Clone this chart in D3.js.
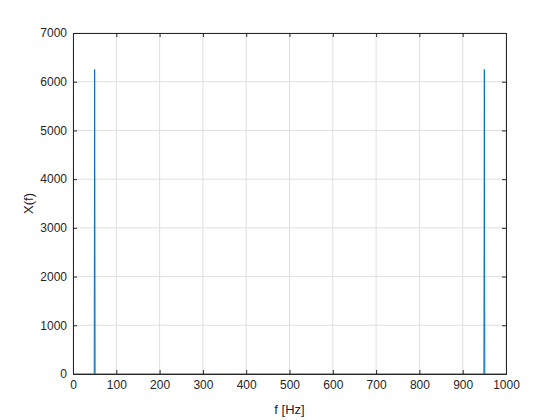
<!DOCTYPE html>
<html><head><meta charset="utf-8">
<script src="https://cdn.jsdelivr.net/npm/d3@7"></script>
<style>body{margin:0;background:#fff}text{font-family:Arial,"Liberation Sans",sans-serif}</style>
</head><body>
<svg width="560" height="420"></svg>
<script>
const freqs = [0, 49, 50, 51, 949, 950, 951, 1000];
const mags = [0, 0, 6250, 0, 0, 6250, 0, 0];
const xTicks = [0, 100, 200, 300, 400, 500, 600, 700, 800, 900, 1000];
const yTicks = [0, 1000, 2000, 3000, 4000, 5000, 6000, 7000];

const svg = d3.select("svg");
const margin = { top: 33, right: 54, bottom: 46, left: 73 };
const width = 560 - margin.left - margin.right;
const height = 420 - margin.top - margin.bottom;
const g = svg.append("g").attr("transform", `translate(${margin.left},${margin.top})`);

const x = d3.scaleLinear().domain([0, 1000]).range([0, width]);
const y = d3.scaleLinear().domain([0, 7000]).range([height, 0]);
const fmt = d3.format("d");

// grid
g.selectAll(".gx").data(xTicks).enter().append("line")
  .attr("x1", d => x(d)).attr("x2", d => x(d)).attr("y1", 0).attr("y2", height)
  .attr("stroke", "#dfdfdf");
g.selectAll(".gy").data(yTicks).enter().append("line")
  .attr("y1", d => y(d)).attr("y2", d => y(d)).attr("x1", 0).attr("x2", width)
  .attr("stroke", "#dfdfdf");

g.append("path").datum(freqs.map((f, i) => [f, mags[i]]))
  .attr("fill", "none").attr("stroke", "#0072bd").attr("stroke-width", 1)
  .attr("d", d3.line().x(d => x(d[0])).y(d => y(d[1])));

g.append("g").attr("transform", `translate(0,${height})`)
  .call(d3.axisBottom(x).tickValues(xTicks).tickFormat(fmt).tickSize(-4).tickPadding(6));
g.append("g").call(d3.axisLeft(y).tickValues(yTicks).tickFormat(fmt).tickSize(-4).tickPadding(6));
g.append("g").call(d3.axisTop(x).tickValues(xTicks).tickSize(-4).tickFormat(""));
g.append("g").attr("transform", `translate(${width},0)`)
  .call(d3.axisRight(y).tickValues(yTicks).tickSize(-4).tickFormat(""));
g.selectAll(".domain, .tick line").attr("stroke", "#262626");
g.selectAll(".tick text").attr("fill", "#262626").style("font-size", "12px");

g.append("text").attr("x", width / 2).attr("y", height + 40).attr("text-anchor", "middle")
  .attr("fill", "#262626").style("font-size", "13px").text("f [Hz]");
g.append("text").attr("transform", `translate(-40,${height / 2}) rotate(-90)`)
  .attr("text-anchor", "middle").attr("fill", "#262626").style("font-size", "13px").text("X(f)");
</script>
</body></html>
